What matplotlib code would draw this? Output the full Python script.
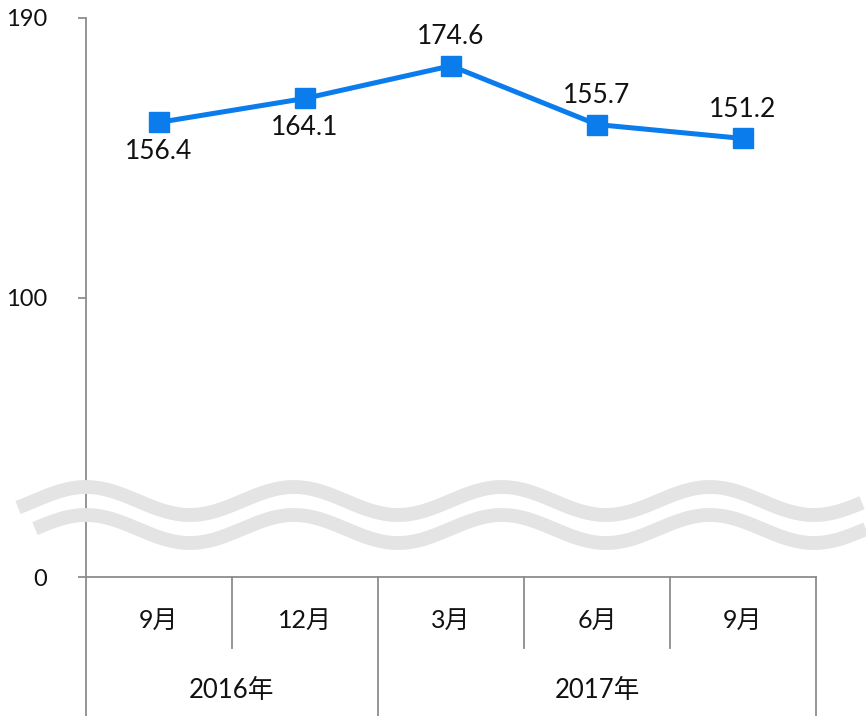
import numpy as np
import matplotlib
matplotlib.use("Agg")
import matplotlib.pyplot as plt
from matplotlib.transforms import blended_transform_factory

# data
months = ["9月", "12月", "3月", "6月", "9月"]
values = [156.4, 164.1, 174.6, 155.7, 151.2]
label_above = [False, False, True, True, True]
years = ["2016年", "2017年"]
year_counts = [2, 3]
y_ticks = [0, 100, 190]

FONT = ["Lato", "Noto Sans CJK JP", "DejaVu Sans"]
plt.rcParams["font.family"] = FONT

LINE_BLUE = "#0a7cec"
AXIS_GRAY = "#8c8c8c"
WAVE_GRAY = "#e4e4e4"


def forward(v):
    v = np.asarray(v, dtype=float)
    return np.where(v <= 100, v / 100.0, 1.0 + (v - 100.0) / 90.0)


def inverse(t):
    t = np.asarray(t, dtype=float)
    return np.where(t <= 1, t * 100.0, 100.0 + (t - 1.0) * 90.0)


W, H = 866, 716
fig = plt.figure(figsize=(W / 100, H / 100), dpi=100)
ax = fig.add_axes([86 / W, (H - 577) / H, (816 - 86) / W, (577 - 18) / H])

x = np.arange(len(months))
ax.plot(x, values, color=LINE_BLUE, lw=3.6, marker="s", markersize=14,
        zorder=5, clip_on=False)
for xi, v, up in zip(x, values, label_above):
    ax.annotate(f"{v:.1f}", (xi, v), xytext=(0, 21 if up else -21),
                textcoords="offset points", ha="center", va="center",
                fontsize=19, color="#111111")

ax.set_yscale("function", functions=(forward, inverse))
ax.set_ylim(0, 190)
ax.set_xlim(-0.5, len(months) - 0.5)
ax.set_yticks(y_ticks, [str(t) for t in y_ticks])
ax.tick_params(axis="y", length=6, width=1.3, color=AXIS_GRAY, pad=22,
               labelsize=17, labelcolor="#111111")
ax.set_xticks([])
for side in ("top", "right"):
    ax.spines[side].set_visible(False)
for side in ("left", "bottom"):
    ax.spines[side].set_color(AXIS_GRAY)
    ax.spines[side].set_linewidth(1.3)
ax.spines["bottom"].set_zorder(6)

# category table below the axis
tr = blended_transform_factory(ax.transData, ax.transAxes)
low_inner = -71 / 559
low_outer = -139 / 559
ax.plot([-0.5, -0.5], [0, low_outer], transform=tr, color=AXIS_GRAY,
        lw=1.3, clip_on=False)
bounds = np.cumsum(year_counts) - 0.5
for b in np.arange(0.5, len(months) - 0.5):
    if b in bounds:
        continue
    ax.plot([b, b], [0, low_inner], transform=tr, color=AXIS_GRAY, lw=1.3,
            clip_on=False)
for b in bounds:
    ax.plot([b, b], [0, low_outer], transform=tr, color=AXIS_GRAY, lw=1.3,
            clip_on=False)
for xi, m in zip(x, months):
    ax.text(xi, -43 / 559, m, transform=tr, ha="center", va="center",
            fontsize=18, color="#111111")
start = -0.5
for yr, n in zip(years, year_counts):
    ax.text(start + n / 2, -113 / 559, yr, transform=tr, ha="center",
            va="center", fontsize=18.5, color="#111111")
    start += n

# axis break waves, drawn in figure pixels
wave_ax = fig.add_axes([0, 0, 1, 1], zorder=3)
wave_ax.set_xlim(0, W)
wave_ax.set_ylim(H, 0)
wave_ax.axis("off")
xs = np.linspace(18, 862, 400)
wave_ax.plot(xs, 501 - 14 * np.cos(2 * np.pi * (xs - 86) / 208),
             color=WAVE_GRAY, lw=10, solid_capstyle="butt")
xs2 = np.linspace(35, 866, 400)
wave_ax.plot(xs2, 529 - 14 * np.cos(2 * np.pi * (xs2 - 86) / 208),
             color=WAVE_GRAY, lw=10, solid_capstyle="butt")

fig.savefig("out.png", dpi=100)
